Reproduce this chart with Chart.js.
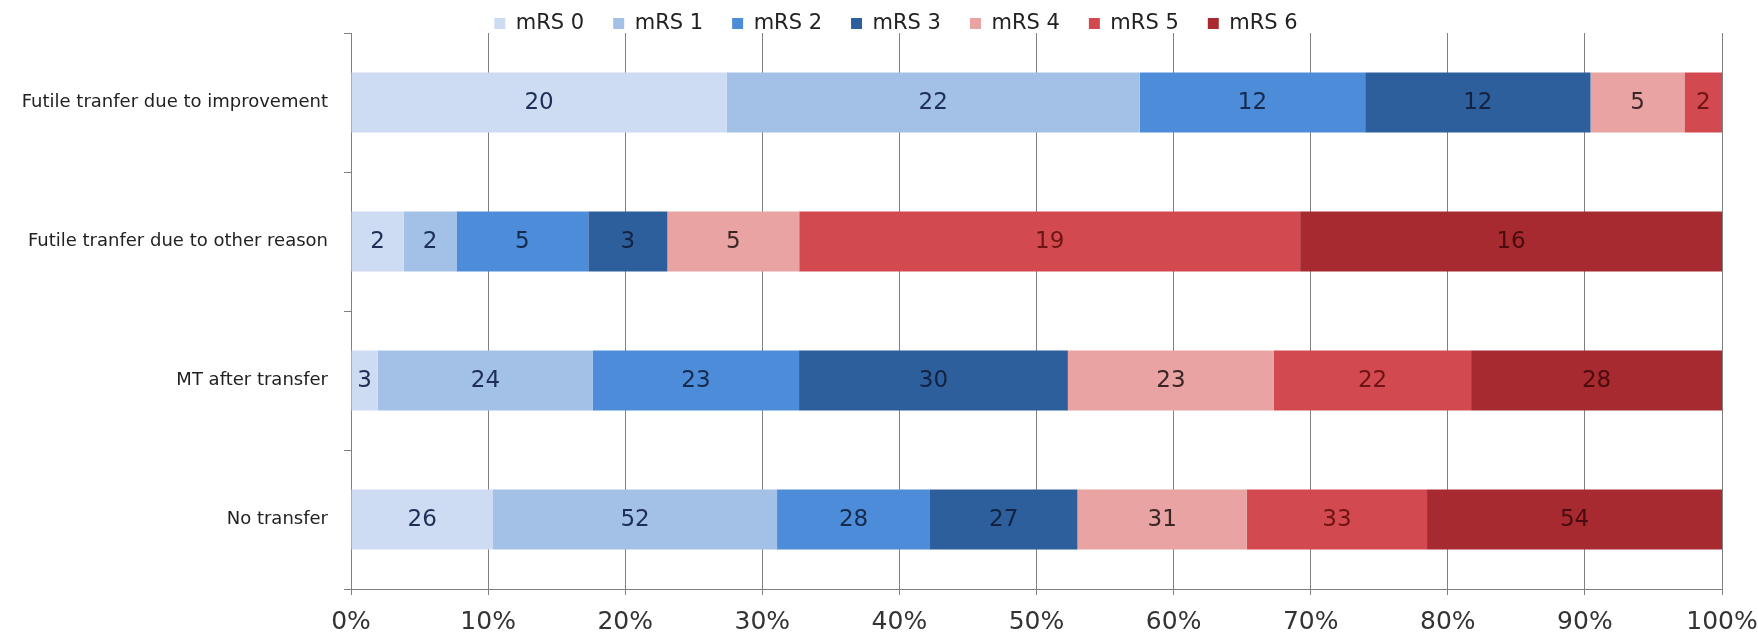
<!DOCTYPE html>
<html>
<head>
<meta charset="utf-8">
<script src="https://cdn.jsdelivr.net/npm/chart.js@4"></script>
<style>
  html, body { margin: 0; padding: 0; background: #ffffff; }
  #wrap { width: 1758px; height: 636px; }
</style>
</head>
<body>
<div id="wrap"><canvas id="chart" width="1758" height="636"></canvas></div>
<script>
// Outcome groups (top to bottom)
const categories = [
  'Futile tranfer due to improvement',
  'Futile tranfer due to other reason',
  'MT after transfer',
  'No transfer'
];

// Patient counts per mRS grade, one array per grade, in category order
const mrs0 = [20, 2, 3, 26];
const mrs1 = [22, 2, 24, 52];
const mrs2 = [12, 5, 23, 28];
const mrs3 = [12, 3, 30, 27];
const mrs4 = [5, 5, 23, 31];
const mrs5 = [2, 19, 22, 33];
const mrs6 = [0, 16, 28, 54];

const seriesNames = ['mRS 0', 'mRS 1', 'mRS 2', 'mRS 3', 'mRS 4', 'mRS 5', 'mRS 6'];
const seriesCounts = [mrs0, mrs1, mrs2, mrs3, mrs4, mrs5, mrs6];

const xTickValues = [0, 10, 20, 30, 40, 50, 60, 70, 80, 90, 100];

const fills = ['#cddcf2', '#a3c1e7', '#4d8cd9', '#2e5f9d', '#e9a3a3', '#d24a4f', '#a62a30'];
const labelInk = ['#1d2f55', '#1d2f55', '#152a4d', '#122240', '#3b2626', '#6e1414', '#4a0c0c'];

// Row totals, used to turn counts into shares of 100%
const totals = categories.map((_, i) => seriesCounts.reduce((s, arr) => s + arr[i], 0));

const datasets = seriesCounts.map((counts, k) => ({
  label: seriesNames[k],
  data: counts.map((c, i) => c / totals[i] * 100),
  counts: counts,
  backgroundColor: fills[k],
  borderWidth: 0,
  barPercentage: 0.43,
  categoryPercentage: 1.0
}));

const FONT = '"DejaVu Sans", sans-serif';

// Count labels centred inside each segment
const segmentLabels = {
  id: 'segmentLabels',
  afterDatasetsDraw(chart) {
    const ctx = chart.ctx;
    ctx.save();
    ctx.font = '23px ' + FONT;
    ctx.textAlign = 'center';
    ctx.textBaseline = 'middle';
    chart.data.datasets.forEach((ds, k) => {
      const meta = chart.getDatasetMeta(k);
      meta.data.forEach((bar, i) => {
        const n = ds.counts[i];
        if (!n) return;
        const cx = (bar.x + bar.base) / 2;
        ctx.fillStyle = labelInk[k];
        ctx.fillText(String(n), cx, bar.y + 1);
      });
    });
    ctx.restore();
  }
};

// Fixed legend band above the plot; the row itself is nudged within that band
const legendBand = {
  id: 'legendBand',
  beforeInit(chart) {
    const lg = chart.legend;
    if (!lg) return;
    const fit = lg.fit;
    lg.fit = function () {
      fit.call(this);
      this.height = 33;
    };
  },
  afterLayout(chart) {
    const lg = chart.legend;
    if (!lg) return;
    lg.top = -16;
    lg.left += 17;
    lg.right += 17;
  }
};

new Chart(document.getElementById('chart'), {
  type: 'bar',
  data: { labels: categories, datasets: datasets },
  plugins: [segmentLabels, legendBand],
  options: {
    indexAxis: 'y',
    responsive: false,
    animation: false,
    layout: { padding: { left: 0, right: 0, top: 0, bottom: 0 } },
    plugins: {
      legend: {
        position: 'top',
        align: 'center',
        labels: {
          font: { family: FONT, size: 21 },
          color: '#222222',
          boxWidth: 11,
          boxHeight: 11,
          padding: 29
        }
      },
      tooltip: { enabled: false }
    },
    scales: {
      x: {
        stacked: true,
        min: 0,
        max: 100,
        afterBuildTicks(scale) {
          scale.ticks = xTickValues.map(v => ({ value: v }));
        },
        afterFit(scale) {
          scale.height = 47;
          scale.paddingRight = 36;
        },
        ticks: {
          callback: v => v + '%',
          font: { family: FONT, size: 25 },
          color: '#333333',
          padding: 12,
          maxRotation: 0
        },
        grid: {
          color: '#808080',
          lineWidth: 1,
          tickLength: 6,
          drawTicks: true
        },
        border: { display: true, color: '#808080', width: 1 }
      },
      y: {
        stacked: true,
        afterFit(scale) { scale.width = 351; },
        ticks: {
          font: { family: FONT, size: 18 },
          color: '#222222',
          padding: 16
        },
        grid: {
          drawOnChartArea: false,
          offset: true,
          tickLength: 7,
          color: '#808080'
        },
        border: { display: true, color: '#808080', width: 1 }
      }
    }
  }
});
</script>
</body>
</html>
